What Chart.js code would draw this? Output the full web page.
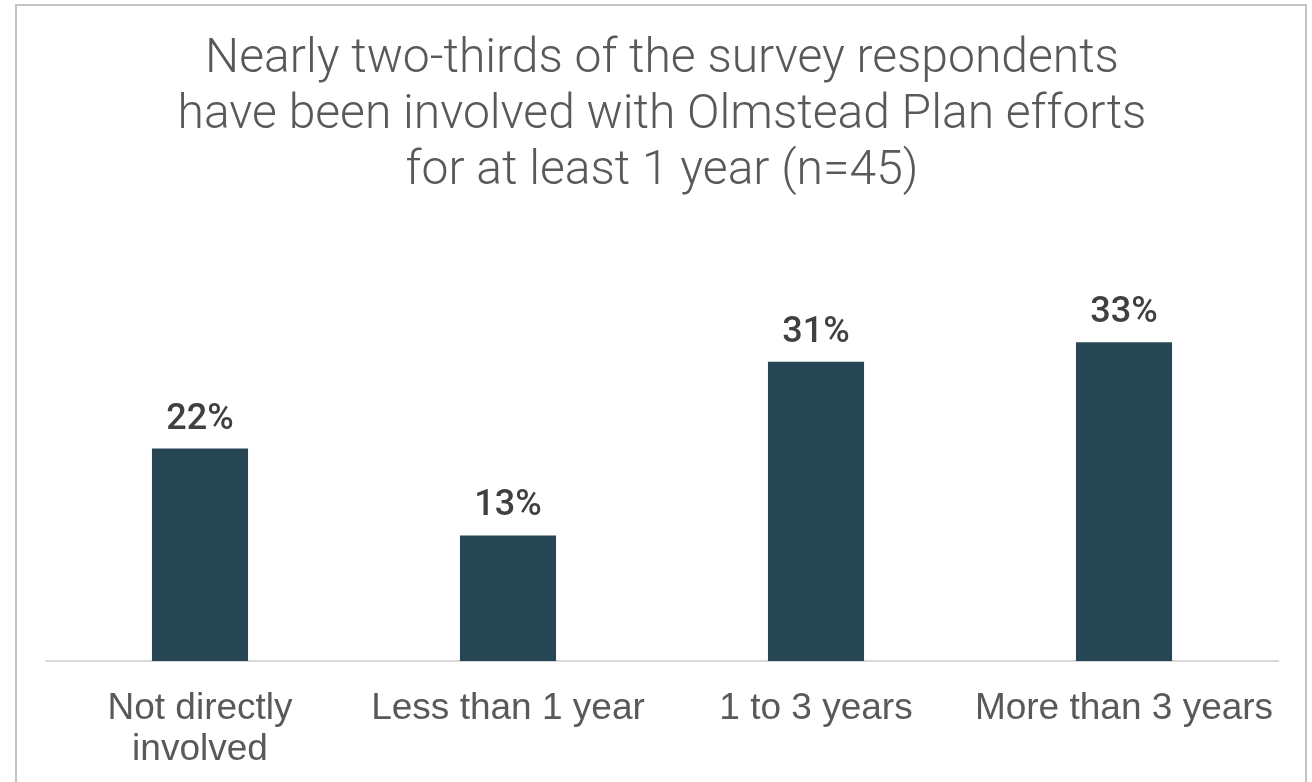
<!DOCTYPE html>
<html>
<head>
<meta charset="utf-8">
<script src="https://cdn.jsdelivr.net/npm/chart.js@4/dist/chart.umd.min.js"></script>
<style>
  html, body { margin: 0; padding: 0; background: #fff; }
  #wrap { width: 1312px; height: 782px; position: relative; }
</style>
</head>
<body>
<div id="wrap"><canvas id="olmsteadChart" width="1312" height="782"></canvas></div>
<script>
const categories = [['Not directly', 'involved'], 'Less than 1 year', '1 to 3 years', 'More than 3 years'];
const shares = [22, 13, 31, 33];
const titleLines = [
    'Nearly two-thirds of the survey respondents',
    'have been involved with Olmstead Plan efforts',
    'for at least 1 year (n=45)'
];

// light frame around the whole figure
const framePlugin = {
    id: 'frame',
    beforeDraw(chart) {
        const ctx = chart.ctx;
        ctx.save();
        ctx.fillStyle = '#ffffff';
        ctx.fillRect(0, 0, chart.width, chart.height);
        ctx.strokeStyle = '#c4c4c4';
        ctx.lineWidth = 2;
        ctx.strokeRect(16, 5, 1290, 900);
        ctx.restore();
    }
};

// percent labels above each bar
const valueLabels = {
    id: 'valueLabels',
    afterDatasetsDraw(chart) {
        const ctx = chart.ctx;
        const meta = chart.getDatasetMeta(0);
        ctx.save();
        ctx.font = '500 36px Roboto';
        ctx.fillStyle = '#404040';
        ctx.textAlign = 'center';
        ctx.textBaseline = 'alphabetic';
        meta.data.forEach((bar, i) => {
            ctx.fillText(shares[i] + '%', bar.x, bar.y - 20);
        });
        ctx.restore();
    }
};

var ctx = document.getElementById('olmsteadChart').getContext('2d');

var myChart = new Chart(ctx, {
    type: 'bar',
    data: {
        labels: categories,
        datasets: [{
            data: shares,
            backgroundColor: '#264653',
            barPercentage: 1,
            categoryPercentage: 0.312
        }]
    },
    options: {
        responsive: false,
        animation: false,
        layout: {
            padding: { left: 46, right: 34, top: 0, bottom: 14 }
        },
        plugins: {
            legend: { display: false },
            tooltip: { enabled: false },
            title: {
                display: true,
                text: titleLines,
                color: '#595959',
                font: { family: 'Roboto', weight: '300', size: 48, lineHeight: 1.1667 },
                padding: { top: 32, bottom: 123 }
            }
        },
        scales: {
            x: {
                grid: { display: false, drawTicks: false },
                border: { color: '#d9d9d9', width: 2 },
                ticks: {
                    color: '#595959',
                    font: { family: 'Liberation Sans', size: 37, lineHeight: 1.11 },
                    padding: 27,
                    maxRotation: 0,
                    autoSkip: false
                },
                afterFit(scale) {
                    scale.height = 107;
                }
            },
            y: {
                display: false,
                min: 0,
                max: 35
            }
        }
    },
    plugins: [framePlugin, valueLabels]
});
</script>
</body>
</html>
